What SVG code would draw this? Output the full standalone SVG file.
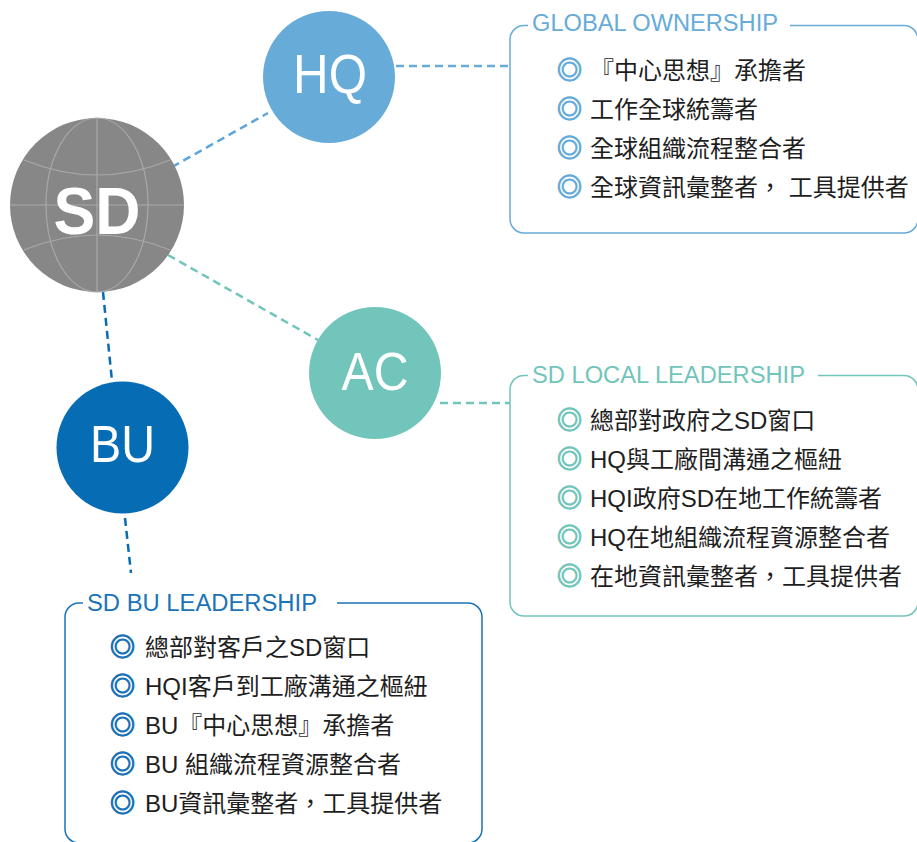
<svg xmlns="http://www.w3.org/2000/svg" width="917" height="842" viewBox="0 0 917 842">
<style>
.node-t{font-family:"Liberation Sans","Noto Sans",sans-serif;fill:#fff;text-anchor:middle}
.conn{fill:none;stroke-width:2.5;stroke-dasharray:8 5}
.box{fill:none;stroke-width:1.5}
.title{font-family:"Liberation Sans","Noto Sans",sans-serif;font-size:23.5px}
.item{font-family:"Liberation Sans","Noto Sans CJK TC",sans-serif;font-size:24px;fill:#1e1e1e}
.mark{font-family:"Noto Sans CJK TC",sans-serif;font-size:25px;font-weight:bold;stroke-width:1.1}
.globe{fill:none;stroke:#a9a9a9;stroke-width:1.2}
</style>
<rect width="917" height="842" fill="#fff"/>
<g id="connectors">
<line class="conn" x1="172" y1="167" x2="268" y2="113" stroke="#5aa5da"/>
<line class="conn" x1="396" y1="66" x2="510" y2="66" stroke="#67abd8"/>
<line class="conn" x1="168" y1="255" x2="318" y2="340" stroke="#72c5bb"/>
<line class="conn" x1="440" y1="403" x2="510" y2="403" stroke="#72c5bb"/>
<line class="conn" x1="103" y1="292" x2="112" y2="381" stroke="#066db5"/>
<line class="conn" x1="125" y1="518" x2="131" y2="573" stroke="#066db5"/>
</g>
<g id="SD">
<circle cx="97" cy="205" r="87" fill="#878787"/>
<line class="globe" x1="97" y1="118" x2="97" y2="292"/>
<line class="globe" x1="10" y1="205" x2="184" y2="205"/>
<ellipse class="globe" cx="97" cy="205" rx="51" ry="87"/>
<path class="globe" d="M24 160 Q97 190 170 160"/>
<path class="globe" d="M24 250 Q97 220 170 250"/>
<text class="node-t" x="97" y="234" font-size="66" font-weight="bold" textLength="87" lengthAdjust="spacingAndGlyphs">SD</text>
</g>
<g id="HQ">
<circle cx="329" cy="77" r="66" fill="#67abd8"/>
<text class="node-t" x="330" y="93" font-size="55" textLength="74" lengthAdjust="spacingAndGlyphs">HQ</text>
</g>
<g id="AC">
<circle cx="375" cy="373" r="66" fill="#72c5bb"/>
<text class="node-t" x="375" y="390" font-size="54" textLength="67" lengthAdjust="spacingAndGlyphs">AC</text>
</g>
<g id="BU">
<circle cx="122.5" cy="447.5" r="66" fill="#066db5"/>
<text class="node-t" x="122.5" y="462" font-size="52" textLength="65" lengthAdjust="spacingAndGlyphs">BU</text>
</g>
<g id="global-ownership">
<path class="box" stroke="#67abd8" d="M528 25.5 H524 A14 14 0 0 0 510 39.5 V219 A14 14 0 0 0 524 233 H904 A14 14 0 0 0 918 219 V39.5 A14 14 0 0 0 904 25.5 H790"/>
<text class="title" x="532" y="31" fill="#67abd8" textLength="246" lengthAdjust="spacingAndGlyphs">GLOBAL OWNERSHIP</text>
<text class="mark" x="557" y="79" fill="#67abd8" stroke="#67abd8">◎</text>
<text class="item" x="590" y="79">『中心思想』承擔者</text>
<text class="mark" x="557" y="118" fill="#67abd8" stroke="#67abd8">◎</text>
<text class="item" x="590" y="118">工作全球統籌者</text>
<text class="mark" x="557" y="157" fill="#67abd8" stroke="#67abd8">◎</text>
<text class="item" x="590" y="157">全球組織流程整合者</text>
<text class="mark" x="557" y="196" fill="#67abd8" stroke="#67abd8">◎</text>
<text class="item" x="590" y="196">全球資訊彙整者， 工具提供者</text>
</g>
<g id="sd-local-leadership">
<path class="box" stroke="#72c5bb" d="M528 375.5 H524 A14 14 0 0 0 510 389.5 V602 A14 14 0 0 0 524 616 H904 A14 14 0 0 0 918 602 V389.5 A14 14 0 0 0 904 375.5 H818"/>
<text class="title" x="532" y="383" fill="#72c5bb" textLength="273" lengthAdjust="spacingAndGlyphs">SD LOCAL LEADERSHIP</text>
<text class="mark" x="557" y="429" fill="#72c5bb" stroke="#72c5bb">◎</text>
<text class="item" x="590" y="429">總部對政府之SD窗口</text>
<text class="mark" x="557" y="468" fill="#72c5bb" stroke="#72c5bb">◎</text>
<text class="item" x="590" y="468">HQ與工廠間溝通之樞紐</text>
<text class="mark" x="557" y="507" fill="#72c5bb" stroke="#72c5bb">◎</text>
<text class="item" x="590" y="507">HQI政府SD在地工作統籌者</text>
<text class="mark" x="557" y="546" fill="#72c5bb" stroke="#72c5bb">◎</text>
<text class="item" x="590" y="546">HQ在地組織流程資源整合者</text>
<text class="mark" x="557" y="585" fill="#72c5bb" stroke="#72c5bb">◎</text>
<text class="item" x="590" y="585">在地資訊彙整者，工具提供者</text>
</g>
<g id="sd-bu-leadership">
<path class="box" stroke="#1a73b8" d="M83 603 H79 A14 14 0 0 0 65 617 V829 A14 14 0 0 0 79 843 H468 A14 14 0 0 0 482 829 V617 A14 14 0 0 0 468 603 H337"/>
<text class="title" x="87" y="611" fill="#1a73b8" textLength="230" lengthAdjust="spacingAndGlyphs">SD BU LEADERSHIP</text>
<text class="mark" x="110" y="656" fill="#1a73b8" stroke="#1a73b8">◎</text>
<text class="item" x="145" y="656">總部對客戶之SD窗口</text>
<text class="mark" x="110" y="695" fill="#1a73b8" stroke="#1a73b8">◎</text>
<text class="item" x="145" y="695">HQI客戶到工廠溝通之樞紐</text>
<text class="mark" x="110" y="734" fill="#1a73b8" stroke="#1a73b8">◎</text>
<text class="item" x="145" y="734">BU『中心思想』承擔者</text>
<text class="mark" x="110" y="773" fill="#1a73b8" stroke="#1a73b8">◎</text>
<text class="item" x="145" y="773">BU 組織流程資源整合者</text>
<text class="mark" x="110" y="812" fill="#1a73b8" stroke="#1a73b8">◎</text>
<text class="item" x="145" y="812">BU資訊彙整者，工具提供者</text>
</g>
</svg>
